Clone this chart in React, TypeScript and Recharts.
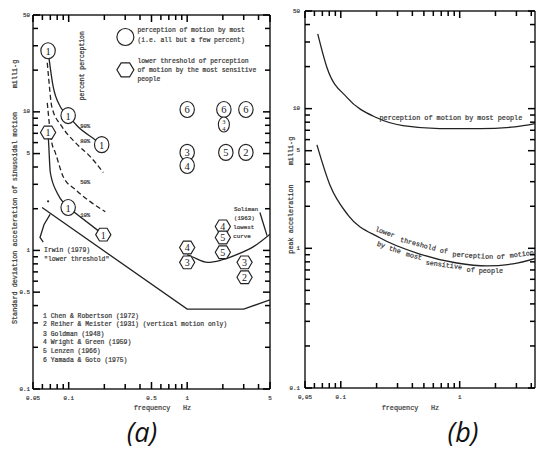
import React from "react";
import { ComposedChart, Line, Scatter, XAxis, YAxis, ReferenceDot } from "recharts";

const INK = "#222";
const GREY = "#3a3a3a";
const TYPE = "'Liberation Mono', 'DejaVu Sans Mono', monospace";

// log axis ticks
const xTicksA = [0.05, 0.06, 0.07, 0.08, 0.09, 0.1, 0.2, 0.3, 0.4, 0.5, 0.6, 0.7, 0.8, 0.9, 1, 2, 3, 4, 5];
const xTicksB = [0.05, 0.06, 0.07, 0.08, 0.09, 0.1, 0.2, 0.3, 0.4, 0.5, 0.6, 0.7, 0.8, 0.9, 1, 2, 3, 4];
const yTicks = [
  0.1, 0.2, 0.3, 0.4, 0.5, 0.6, 0.7, 0.8, 0.9, 1, 2, 3, 4, 5, 6, 7, 8, 9, 10, 20, 30, 40, 50,
];
const xLabelsA: Record<string, string> = { "0.05": "0.05", "0.1": "0.1", "0.5": "0.5", "1": "1", "5": "5" };
const xLabelsB: Record<string, string> = { "0.05": "0,05", "0.1": "0.1", "1": "1" };
const yLabelsA: Record<string, string> = { "0.1": "0.1", "0.5": "0.5", "1": "1", "5": "5", "10": "10", "50": "50" };
const yLabelsB: Record<string, string> = { "0.1": "0.1", "1": "1", "5": "5", "10": "10", "50": "50" };

// (a) percent perception curves (Chen & Robertson), f = Hz, g = milli-g
const p90 = [
  { f: 0.067, g: 27.6 }, { f: 0.074, g: 15.2 }, { f: 0.085, g: 10.9 }, { f: 0.099, g: 9.4 },
  { f: 0.12, g: 7.8 }, { f: 0.167, g: 6.3 }, { f: 0.19, g: 5.8 },
];
const p80 = [
  { f: 0.066, g: 22.6 }, { f: 0.068, g: 17 }, { f: 0.072, g: 10.9 }, { f: 0.088, g: 7.8 },
  { f: 0.114, g: 6.0 }, { f: 0.152, g: 4.75 }, { f: 0.196, g: 3.65 },
];
const p50 = [
  { f: 0.066, g: 11.6 }, { f: 0.072, g: 6.0 }, { f: 0.077, g: 5.1 }, { f: 0.09, g: 3.4 },
  { f: 0.114, g: 2.75 }, { f: 0.152, g: 2.25 }, { f: 0.204, g: 1.9 },
];
const p10 = [
  { f: 0.067, g: 7.1 }, { f: 0.068, g: 5.6 }, { f: 0.07, g: 3.65 }, { f: 0.08, g: 2.6 },
  { f: 0.093, g: 2.15 }, { f: 0.099, g: 2.04 },
];
const p10tail = [{ f: 0.099, g: 2.04 }, { f: 0.196, g: 1.3 }];
const irwin = [{ f: 0.0596, g: 2.04 }, { f: 1.0, g: 0.377 }, { f: 3.0, g: 0.377 }, { f: 5.0, g: 0.44 }];
const irwinLeader = [{ f: 0.061, g: 1.15 }, { f: 0.0573, g: 1.24 }, { f: 0.062, g: 1.54 }, { f: 0.0697, g: 1.82 }];
const soliman = [
  { f: 1.0, g: 0.93 }, { f: 1.1, g: 0.9 }, { f: 1.49, g: 0.82 }, { f: 1.92, g: 0.85 },
  { f: 2.68, g: 0.94 }, { f: 3.66, g: 1.07 }, { f: 5.0, g: 1.31 },
];
const solimanLeader = [{ f: 4.11, g: 1.88 }, { f: 4.72, g: 1.28 }];

// (a) study markers: circle = perception by most, hexagon = lower threshold
const circlesA = [
  { f: 0.067, g: 27.6, n: "1" }, { f: 0.099, g: 9.4, n: "1" }, { f: 0.19, g: 5.8, n: "1" },
  { f: 0.099, g: 2.04, n: "1" },
  { f: 1, g: 10.4, n: "6" }, { f: 2.04, g: 10.4, n: "6" }, { f: 3.13, g: 10.4, n: "6" },
  { f: 2.04, g: 8.1, n: "3/4" },
  { f: 1, g: 5.1, n: "3" }, { f: 1, g: 4.1, n: "4" }, { f: 2.12, g: 5.1, n: "5" }, { f: 3.13, g: 5.1, n: "2" },
  { f: 0.301, g: 34.7, n: "", big: true },
];
const hexesA = [
  { f: 0.067, g: 7.1, n: "1" }, { f: 0.196, g: 1.3, n: "1" },
  { f: 2.0, g: 1.49, n: "4" }, { f: 2.0, g: 1.24, n: "5" }, { f: 2.0, g: 0.97, n: "5" },
  { f: 1, g: 1.05, n: "4" }, { f: 1, g: 0.82, n: "3" },
  { f: 3.05, g: 0.82, n: "3" }, { f: 3.05, g: 0.64, n: "2" },
  { f: 0.301, g: 20.1, n: "", big: true },
];

// (b) peak acceleration curves
const mostPeople = [
  { f: 0.064, g: 34.3 }, { f: 0.0766, g: 19.6 }, { f: 0.113, g: 12 }, { f: 0.201, g: 8.6 },
  { f: 0.333, g: 7.55 }, { f: 0.68, g: 7.2 }, { f: 1.48, g: 7.2 }, { f: 2.91, g: 7.4 }, { f: 4.3, g: 7.8 },
];
const sensitive = [
  { f: 0.063, g: 5.5 }, { f: 0.081, g: 2.84 }, { f: 0.115, g: 1.73 }, { f: 0.213, g: 1.19 },
  { f: 0.462, g: 0.91 }, { f: 0.946, g: 0.785 }, { f: 1.69, g: 0.748 }, { f: 2.8, g: 0.773 }, { f: 4.46, g: 0.853 },
];

type Note = { f: number; g: number; text: string; anchor?: "start" | "middle" | "end"; angle?: number; size?: number };

const notesA: Note[] = [
  { f: 0.38, g: 38.4, text: "perception of motion by most" },
  { f: 0.38, g: 32.5, text: "(i.e. all but a few percent)" },
  { f: 0.38, g: 23, text: "lower threshold of perception" },
  { f: 0.38, g: 19.8, text: "of motion by the most sensitive" },
  { f: 0.38, g: 17, text: "people" },
  { f: 0.13, g: 21.5, text: "percent perception", anchor: "middle", angle: -90 },
  { f: 0.125, g: 7.8, text: "90%", size: 5.6 },
  { f: 0.125, g: 6.1, text: "80%", size: 5.6 },
  { f: 0.125, g: 3.09, text: "50%", size: 5.6 },
  { f: 0.125, g: 1.79, text: "10%", size: 5.6 },
  { f: 0.062, g: 1.0, text: "Irwin (1979)" },
  { f: 0.062, g: 0.86, text: "\"lower threshold\"" },
  { f: 2.48, g: 1.98, text: "Soliman", size: 5.8 },
  { f: 2.48, g: 1.7, text: "(1963)", size: 5.8 },
  { f: 2.45, g: 1.47, text: "lowest", size: 5.8 },
  { f: 2.45, g: 1.26, text: "curve", size: 5.8 },
  { f: 0.0608, g: 0.336, text: "1 Chen & Robertson (1972)" },
  { f: 0.0608, g: 0.29, text: "2 Reiher & Meister (1931) (vertical motion only)" },
  { f: 0.0608, g: 0.249, text: "3 Goldman (1948)" },
  { f: 0.0608, g: 0.215, text: "4 Wright & Green (1959)" },
  { f: 0.0608, g: 0.185, text: "5 Lenzen (1966)" },
  { f: 0.0608, g: 0.16, text: "6 Yamada & Goto (1975)" },
];

const notesB: Note[] = [
  { f: 0.843, g: 8.58, text: "perception of motion by most people", anchor: "middle" },
  { f: 0.235, g: 1.3, text: "lower", anchor: "middle", angle: 20 },
  { f: 0.446, g: 1.07, text: "threshold", anchor: "middle", angle: 15 },
  { f: 0.736, g: 0.955, text: "of", anchor: "middle", angle: 9 },
  { f: 1.29, g: 0.885, text: "perception", anchor: "middle", angle: 4 },
  { f: 2.22, g: 0.862, text: "of", anchor: "middle", angle: 0 },
  { f: 3.33, g: 0.905, text: "motion", anchor: "middle", angle: -7 },
  { f: 0.218, g: 1.057, text: "by", anchor: "middle", angle: 20 },
  { f: 0.285, g: 0.973, text: "the", anchor: "middle", angle: 17 },
  { f: 0.412, g: 0.881, text: "most", anchor: "middle", angle: 14 },
  { f: 0.736, g: 0.76, text: "sensitive", anchor: "middle", angle: 8 },
  { f: 1.24, g: 0.7, text: "of", anchor: "middle", angle: 3 },
  { f: 1.83, g: 0.689, text: "people", anchor: "middle", angle: 0 },
];

const inkText = { fontFamily: TYPE, fill: GREY, stroke: GREY, strokeWidth: 0.22 };

function NoteText({ x, y, text, anchor = "start", angle = 0, size = 6.4 }: any) {
  return (
    <text
      x={x}
      y={y}
      textAnchor={anchor}
      dominantBaseline="central"
      fontSize={size}
      {...inkText}
      transform={angle ? `rotate(${angle} ${x} ${y})` : undefined}
    >
      {text}
    </text>
  );
}

function renderNotes(notes: Note[], size: number) {
  return notes.map((n, i) => (
    <ReferenceDot
      key={`note-${i}`}
      x={n.f}
      y={n.g}
      r={0}
      ifOverflow="visible"
      shape={(p: any) => <NoteText x={p.cx} y={p.cy} {...n} size={n.size ?? size} />}
    />
  ));
}

const digit = { fontFamily: "'Liberation Serif', serif", fill: INK };

function CircleMark({ cx, cy, payload }: any) {
  const n = payload.n;
  if (n === "3/4") {
    return (
      <g>
        <ellipse cx={cx} cy={cy} rx={5.5} ry={7.5} fill="#fff" stroke={INK} strokeWidth={1.1} />
        <text x={cx} y={cy - 3} textAnchor="middle" dominantBaseline="central" fontSize={6.5} {...digit}>3</text>
        <text x={cx} y={cy + 3.5} textAnchor="middle" dominantBaseline="central" fontSize={6.5} {...digit}>4</text>
      </g>
    );
  }
  const rx = payload.big ? 8.5 : 7.2;
  const ry = payload.big ? 8.5 : 8;
  return (
    <g>
      <ellipse cx={cx} cy={cy} rx={rx} ry={ry} fill="#fff" stroke={INK} strokeWidth={1.15} />
      {n && (
        <text x={cx} y={cy + 0.5} textAnchor="middle" dominantBaseline="central" fontSize={10.5} {...digit}>
          {n}
        </text>
      )}
    </g>
  );
}

function HexMark({ cx, cy, payload }: any) {
  const w = payload.big ? 8.5 : 7.6;
  const h = payload.big ? 7 : 6.4;
  const d = `M${cx - w},${cy} L${cx - w / 2},${cy - h} L${cx + w / 2},${cy - h} L${cx + w},${cy} L${cx + w / 2},${cy + h} L${cx - w / 2},${cy + h} Z`;
  return (
    <g>
      <path d={d} fill="#fff" stroke={INK} strokeWidth={1.15} />
      {payload.n && (
        <text x={cx} y={cy + 0.5} textAnchor="middle" dominantBaseline="central" fontSize={10} {...digit}>
          {payload.n}
        </text>
      )}
    </g>
  );
}

// frame ticks point into the plot; labelled ticks are longer
const TICK = { stroke: "#000", strokeWidth: 1.5 };

function BottomTick({ x, y, payload, labels }: any) {
  const lab = labels[String(payload.value)];
  return (
    <g>
      <line x1={x} x2={x} y1={y} y2={y - (lab ? 7 : 5)} {...TICK} />
      {lab && (
        <text x={x} y={y + 9} textAnchor="middle" dominantBaseline="central" fontSize={5.8} {...inkText}>
          {lab}
        </text>
      )}
    </g>
  );
}

function TopTick({ x, y, payload, labels }: any) {
  const major = labels[String(payload.value)];
  return <line x1={x} x2={x} y1={y} y2={y + (major ? 7 : 5)} {...TICK} />;
}

function LeftTick({ x, y, payload, labels, gap }: any) {
  const lab = labels[String(payload.value)];
  return (
    <g>
      <line x1={x} x2={x + (lab ? 7 : 5)} y1={y} y2={y} {...TICK} />
      {lab && (
        <text x={x - gap} y={y} textAnchor="end" dominantBaseline="central" fontSize={5.8} {...inkText}>
          {lab}
        </text>
      )}
    </g>
  );
}

function RightTick({ x, y, payload, labels }: any) {
  const major = labels[String(payload.value)];
  return <line x1={x} x2={x - (major ? 7 : 5)} y1={y} y2={y} {...TICK} />;
}

const axisText = { fontSize: 6.8, ...inkText };
const frame = { stroke: INK, strokeWidth: 1.5 };

function curve(data: any[], dashed = false, type: any = "monotone") {
  return (
    <Line
      data={data}
      dataKey="g"
      type={type}
      stroke={INK}
      strokeWidth={1.3}
      strokeDasharray={dashed ? "5 3" : undefined}
      dot={false}
      activeDot={false}
      isAnimationActive={false}
    />
  );
}

function PanelA() {
  return (
    <ComposedChart width={275} height={420} margin={{ top: 14, right: 4, bottom: 0, left: 0 }}>
      <XAxis
        xAxisId="top" orientation="top" dataKey="f" type="number" scale="log" domain={[0.05, 5]}
        allowDataOverflow ticks={xTicksA} interval={0} height={1} tickSize={0} tickMargin={0}
        tickLine={false} axisLine={frame} tick={<TopTick labels={xLabelsA} />}
      />
      <XAxis
        dataKey="f" type="number" scale="log" domain={[0.05, 5]} allowDataOverflow ticks={xTicksA}
        interval={0} height={31} tickSize={0} tickMargin={0} tickLine={false}
        axisLine={frame} tick={<BottomTick labels={xLabelsA} />}
        label={{
          content: (p: any) => (
            <g>
              <text x={p.viewBox.x + 119} y={p.viewBox.y + 19} textAnchor="middle" dominantBaseline="central" {...axisText}>frequency</text>
              <text x={p.viewBox.x + 154} y={p.viewBox.y + 19} textAnchor="middle" dominantBaseline="central" {...axisText}>Hz</text>
            </g>
          ),
        }}
      />
      <YAxis
        dataKey="g" type="number" scale="log" domain={[0.1, 50]} allowDataOverflow ticks={yTicks}
        interval={0} width={33} tickSize={0} tickMargin={0} tickLine={false}
        axisLine={frame} tick={<LeftTick labels={yLabelsA} gap={3} />}
        label={{
          content: (p: any) => {
            const x = p.viewBox.x + 15;
            return (
              <g>
                <text x={x} y={218} transform={`rotate(-90 ${x} 218)`} textAnchor="middle" dominantBaseline="central" {...axisText}>
                  Standard deviation acceleration of sinusoidal motion
                </text>
                <text x={x} y={74} transform={`rotate(-90 ${x} 74)`} textAnchor="middle" dominantBaseline="central" {...axisText}>
                  milli-g
                </text>
              </g>
            );
          },
        }}
      />
      <YAxis
        yAxisId="right" orientation="right" dataKey="g" type="number" scale="log" domain={[0.1, 50]}
        allowDataOverflow ticks={yTicks} interval={0} width={1} tickSize={0} tickMargin={0}
        tickLine={false} axisLine={frame} tick={<RightTick labels={yLabelsA} />}
      />
      {curve(p90)}
      {curve(p80, true)}
      {curve(p50, true)}
      {curve(p10)}
      {curve(p10tail, false, "linear")}
      {curve(irwin, false, "linear")}
      {curve(irwinLeader, false, "linear")}
      {curve(soliman)}
      {curve(solimanLeader, false, "linear")}
      <ReferenceDot x={0.067} y={2.26} r={1.1} fill={INK} stroke="none" />
      <Scatter data={circlesA} shape={(p: any) => <CircleMark {...p} />} isAnimationActive={false} />
      <Scatter data={hexesA} shape={(p: any) => <HexMark {...p} />} isAnimationActive={false} />
      {renderNotes(notesA, 6.4)}
    </ComposedChart>
  );
}

function PanelB() {
  return (
    <ComposedChart width={267} height={420} margin={{ top: 10, right: 1, bottom: 0, left: 0 }}>
      <XAxis
        xAxisId="top" orientation="top" dataKey="f" type="number" scale="log" domain={[0.05, 4.3]}
        allowDataOverflow ticks={xTicksB} interval={0} height={1} tickSize={0} tickMargin={0}
        tickLine={false} axisLine={frame} tick={<TopTick labels={xLabelsB} />}
      />
      <XAxis
        dataKey="f" type="number" scale="log" domain={[0.05, 4.3]} allowDataOverflow ticks={xTicksB}
        interval={0} height={32} tickSize={0} tickMargin={0} tickLine={false}
        axisLine={frame} tick={<BottomTick labels={xLabelsB} />}
        label={{
          content: (p: any) => (
            <g>
              <text x={p.viewBox.x + 95} y={p.viewBox.y + 20} textAnchor="middle" dominantBaseline="central" {...axisText}>frequency</text>
              <text x={p.viewBox.x + 130} y={p.viewBox.y + 20} textAnchor="middle" dominantBaseline="central" {...axisText}>Hz</text>
            </g>
          ),
        }}
      />
      <YAxis
        dataKey="g" type="number" scale="log" domain={[0.1, 50]} allowDataOverflow ticks={yTicks}
        interval={0} width={35} tickSize={0} tickMargin={0} tickLine={false}
        axisLine={frame} tick={<LeftTick labels={yLabelsB} gap={5} />}
        label={{
          content: (p: any) => {
            const x = p.viewBox.x + 21;
            return (
              <g>
                <text x={x} y={219} transform={`rotate(-90 ${x} 219)`} textAnchor="middle" dominantBaseline="central" {...axisText}>
                  peak acceleration
                </text>
                <text x={x} y={151} transform={`rotate(-90 ${x} 151)`} textAnchor="middle" dominantBaseline="central" {...axisText}>
                  milli-g
                </text>
              </g>
            );
          },
        }}
      />
      <YAxis
        yAxisId="right" orientation="right" dataKey="g" type="number" scale="log" domain={[0.1, 50]}
        allowDataOverflow ticks={yTicks} interval={0} width={1} tickSize={0} tickMargin={0}
        tickLine={false} axisLine={frame} tick={<RightTick labels={yLabelsB} />}
      />
      {curve(mostPeople)}
      {curve(sensitive)}
      {renderNotes(notesB, 6.8)}
    </ComposedChart>
  );
}

export default function App() {
  const caption: React.CSSProperties = {
    position: "absolute",
    top: 416,
    width: 60,
    textAlign: "center",
    fontFamily: "'Open Sans', 'Noto Sans', sans-serif",
    fontStyle: "italic",
    fontSize: 27,
    lineHeight: "32px",
    color: "#111",
  };
  return (
    <div style={{ position: "absolute", left: 0, top: 0, width: 537, height: 452, overflow: "hidden", background: "#fff" }}>
      <div style={{ position: "absolute", left: 0, top: 0 }}>
        <PanelA />
      </div>
      <div style={{ position: "absolute", left: 270, top: 0 }}>
        <PanelB />
      </div>
      <div style={{ ...caption, left: 112 }}>(a)</div>
      <div style={{ ...caption, left: 433 }}>(b)</div>
    </div>
  );
}
